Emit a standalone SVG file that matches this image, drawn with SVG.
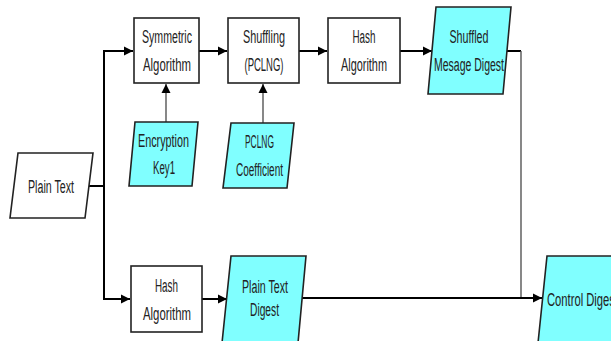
<svg xmlns="http://www.w3.org/2000/svg" width="611" height="341" viewBox="0 0 611 341">
<style>
.box{fill:#fff;stroke:#222;stroke-width:1.6}
.io{fill:#80ffff;stroke:#222;stroke-width:1.6}
.iow{fill:#fff;stroke:#222;stroke-width:1.6}
.c{fill:none;stroke:#000;stroke-width:2}
.g{fill:none;stroke:#555;stroke-width:1.4}
text{font-family:"Liberation Sans",Arial,sans-serif;font-size:18px;fill:#222}
</style>
<defs>
<marker id="a" viewBox="0 0 10 10" refX="10" refY="5" markerWidth="9" markerHeight="10" markerUnits="userSpaceOnUse" orient="auto"><path d="M0,0L10,5L0,10Z" fill="#000"/></marker>
</defs>
<g id="connectors">
<path class="c" d="M85,186H104V51H133" marker-end="url(#a)"/>
<path class="c" d="M104,186V299H130" marker-end="url(#a)"/>
<path class="c" d="M199,51H227" marker-end="url(#a)"/>
<path class="c" d="M299,51H327" marker-end="url(#a)"/>
<path class="c" d="M400,51H432" marker-end="url(#a)"/>
<path class="c" d="M202,299H227" marker-end="url(#a)"/>
<path class="g" d="M166,122V84" marker-end="url(#a)"/>
<path class="g" d="M263,123V84" marker-end="url(#a)"/>
<path class="c" d="M505,51H521"/>
<path class="g" d="M521,51V298"/>
<path class="c" d="M301,298H542" marker-end="url(#a)"/>
</g>
<g id="plain-text">
<path class="iow" d="M18,153H93L85,218H10Z"/>
<text x="51" y="193" text-anchor="middle" textLength="46" lengthAdjust="spacingAndGlyphs">Plain Text</text>
</g>
<g id="symmetric">
<rect class="box" x="134" y="18" width="65" height="65"/>
<text x="167" y="43" text-anchor="middle" textLength="50" lengthAdjust="spacingAndGlyphs">Symmetric</text>
<text x="167" y="71" text-anchor="middle" textLength="48" lengthAdjust="spacingAndGlyphs">Algorithm</text>
</g>
<g id="shuffling">
<rect class="box" x="228" y="18" width="71" height="65"/>
<text x="264" y="43" text-anchor="middle" textLength="42" lengthAdjust="spacingAndGlyphs">Shuffling</text>
<text x="264" y="71" text-anchor="middle" textLength="39" lengthAdjust="spacingAndGlyphs">(PCLNG)</text>
</g>
<g id="hash-top">
<rect class="box" x="328" y="18" width="72" height="65"/>
<text x="364" y="43" text-anchor="middle" textLength="23" lengthAdjust="spacingAndGlyphs">Hash</text>
<text x="364" y="71" text-anchor="middle" textLength="46" lengthAdjust="spacingAndGlyphs">Algorithm</text>
</g>
<g id="shuffled-digest">
<path class="io" d="M436,7H511L503,94H428Z"/>
<text x="469" y="43" text-anchor="middle" textLength="39" lengthAdjust="spacingAndGlyphs">Shuffled</text>
<text x="469" y="71" text-anchor="middle" textLength="70" lengthAdjust="spacingAndGlyphs">Mesage Digest</text>
</g>
<g id="key1">
<path class="io" d="M135,122H198L192,186H129Z"/>
<text x="163.5" y="147" text-anchor="middle" textLength="51" lengthAdjust="spacingAndGlyphs">Encryption</text>
<text x="164" y="174" text-anchor="middle" textLength="22" lengthAdjust="spacingAndGlyphs">Key1</text>
</g>
<g id="pclng">
<path class="io" d="M231,123H294L287,188H223Z"/>
<text x="259.5" y="148" text-anchor="middle" textLength="29" lengthAdjust="spacingAndGlyphs">PCLNG</text>
<text x="259.5" y="176" text-anchor="middle" textLength="47" lengthAdjust="spacingAndGlyphs">Coefficient</text>
</g>
<g id="hash-bottom">
<rect class="box" x="131" y="266" width="71" height="66"/>
<text x="166.5" y="292" text-anchor="middle" textLength="23" lengthAdjust="spacingAndGlyphs">Hash</text>
<text x="167" y="320" text-anchor="middle" textLength="48" lengthAdjust="spacingAndGlyphs">Algorithm</text>
</g>
<g id="plain-text-digest">
<path class="io" d="M231,256H306L298,343H222Z"/>
<text x="265" y="293" text-anchor="middle" textLength="46" lengthAdjust="spacingAndGlyphs">Plain Text</text>
<text x="264.5" y="316" text-anchor="middle" textLength="29" lengthAdjust="spacingAndGlyphs">Digest</text>
</g>
<g id="control-digest">
<path class="io" d="M547,256H625L617,343H538Z"/>
<text x="547" y="306" textLength="71" lengthAdjust="spacingAndGlyphs">Control Digest</text>
</g>
</svg>
